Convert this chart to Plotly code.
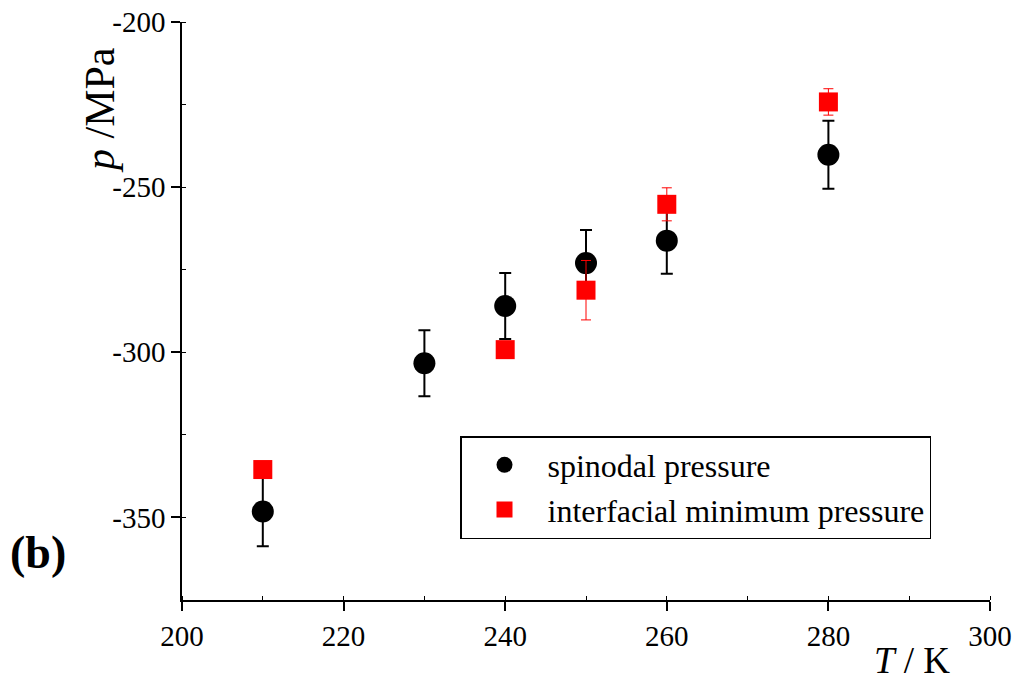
import plotly.graph_objects as go

T_spin = [210, 230, 240, 250, 260, 280]
p_spin = [-348.2, -303.3, -286.0, -273.0, -266.2, -240.2]
err_spin = [10.5, 10, 10, 10, 10, 10.3]

T_int = [210, 240, 250, 260, 280]
p_int = [-335.5, -299.2, -281.2, -255.2, -224.2]
err_int = [1.5, 1.5, 9, 5, 4]

x_ticks = [200, 220, 240, 260, 280, 300]
x_ticktext = ["200", "220", "240", "260", "280", "300"]
y_ticks = [-350, -300, -250, -200]
y_ticktext = ["-350", "-300", "-250", "-200"]

FONT = "Liberation Serif"

fig = go.Figure()
fig.add_trace(go.Scatter(
    x=T_spin, y=p_spin, mode="markers", name="spinodal pressure",
    marker=dict(symbol="circle", size=22, color="black"),
    error_y=dict(type="data", array=err_spin, color="black", thickness=2, width=6),
))
fig.add_trace(go.Scatter(
    x=T_int, y=p_int, mode="markers", name="interfacial minimum pressure",
    marker=dict(symbol="square", size=19, color="#ff0000"),
    error_y=dict(type="data", array=err_int, color="#ff0000", thickness=1, width=5),
))

axis_common = dict(
    showline=True, linecolor="black", linewidth=1.5, mirror=False,
    ticks="outside", ticklen=9, tickwidth=1.5, tickcolor="black",
    showgrid=False, zeroline=False, automargin=False,
    tickfont=dict(family=FONT, size=29, color="black"),
    minor=dict(ticks="inside", ticklen=4, tickwidth=1, tickcolor="black", showgrid=False),
)

fig.update_xaxes(range=[200, 300], tickvals=x_ticks, ticktext=x_ticktext,
                 minor_dtick=10, **axis_common)
fig.update_yaxes(range=[-375, -200], tickvals=y_ticks, ticktext=y_ticktext,
                 minor_dtick=25, **axis_common)

W, H = 1019, 690
l, r, t, b = 182, 29, 22, 90
pw, ph = W - l - r, H - t - b


def px_x(px):
    return (px - l) / pw


def px_y(py):
    return (H - b - py) / ph


fig.update_layout(
    width=W, height=H,
    margin=dict(l=l, r=r, t=t, b=b),
    paper_bgcolor="white", plot_bgcolor="white",
    font=dict(family=FONT, color="black"),
    showlegend=True,
    legend=dict(
        x=px_x(460), y=px_y(436), xanchor="left", yanchor="top",
        bordercolor="black", borderwidth=1.5, bgcolor="white",
        font=dict(family=FONT, size=32, color="black"),
        itemwidth=76, tracegroupgap=0,
    ),
    annotations=[
        dict(text="<i>p</i> /MPa", x=px_x(100), y=px_y(110), xref="paper", yref="paper",
             xanchor="center", yanchor="middle",
             showarrow=False, textangle=-90, font=dict(family=FONT, size=42)),
        dict(text="<i>T</i> / K", x=px_x(912), y=px_y(660), xref="paper", yref="paper",
             xanchor="center", yanchor="middle",
             showarrow=False, font=dict(family=FONT, size=37)),
        dict(text="<b>(b)</b>", x=px_x(38), y=px_y(552), xref="paper", yref="paper",
             xanchor="center", yanchor="middle",
             showarrow=False, font=dict(family=FONT, size=46)),
    ],
)

fig.write_html("out.html")
